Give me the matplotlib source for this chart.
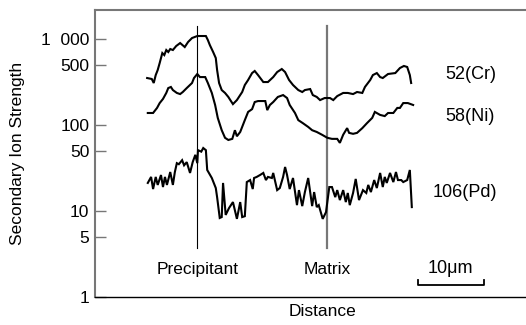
import matplotlib
matplotlib.use("Agg")
import matplotlib.pyplot as plt

plt.rcParams['font.family'] = ['Liberation Sans', 'DejaVu Sans']

# distance in um, secondary ion strength (counts)
cr_x = [7.9, 8.6, 8.9, 9.2, 9.5, 9.8, 10.2, 10.5, 10.8, 11.1, 11.4, 11.8, 12.3, 12.9, 13.6,
        14.1, 14.7, 15.5, 16.8, 17.1, 17.4, 17.9, 18.3, 18.5, 18.8, 19.2, 19.7, 20.2, 20.5,
        20.9, 21.5, 22.3, 22.7, 23.2, 23.8, 24.2, 24.7, 25.5, 26.2, 27.0, 27.6, 28.3, 28.8,
        29.4, 30.0, 30.8, 31.4, 31.8, 32.6, 33.0, 33.6, 34.1, 34.8, 35.6, 36.1, 36.7, 37.6,
        38.3, 39.1, 39.7, 40.5, 40.9, 41.7, 42.1, 42.7, 43.2, 43.6, 44.4, 45.5, 46.2, 46.8,
        47.3, 47.7, 47.9]
cr_y = [352, 343, 308, 381, 436, 526, 687, 651, 745, 706, 765, 745, 829, 898, 807,
        923, 1027, 1084, 1084, 973, 851, 706, 601, 436, 308, 255, 236, 212, 195,
        175, 195, 242, 292, 334, 402, 425, 381, 316, 316, 361, 413, 448, 413,
        334, 292, 255, 242, 255, 262, 223, 212, 195, 206, 206, 195, 217, 236,
        236, 229, 242, 236, 277, 334, 381, 402, 361, 352, 392, 402, 460, 486,
        473, 381, 308]

ni_x = [8.0, 8.8, 9.4, 9.8, 10.3, 10.8, 11.1, 11.5, 11.8, 12.4, 12.9, 13.3, 13.9, 14.7,
        15.0, 15.5, 15.9, 16.7, 17.1, 17.7, 18.2, 18.6, 19.2, 19.7, 20.2, 20.8, 21.2, 21.5,
        22.0, 22.7, 23.2, 23.8, 24.2, 24.7, 25.8, 26.1, 26.5, 27.0, 27.7, 28.5, 29.1, 29.5,
        30.3, 30.8, 31.5, 32.3, 32.9, 33.6, 34.4, 35.2, 35.9, 36.7, 37.1, 37.6, 38.2, 38.5,
        39.1, 39.7, 40.5, 41.2, 42.0, 42.4, 43.2, 43.9, 44.4, 45.2, 45.8, 46.2, 46.7, 47.4,
        48.2]
ni_y = [138, 138, 158, 180, 201, 236, 269, 277, 255, 236, 229, 242, 269, 308,
        352, 392, 361, 361, 308, 236, 171, 121, 87, 71, 67, 69, 87, 74,
        83, 114, 142, 153, 185, 190, 190, 149, 171, 185, 212, 223, 206, 171,
        138, 114, 105, 95, 87, 83, 77, 71, 69, 69, 62, 77, 92, 81,
        79, 81, 92, 105, 121, 142, 131, 127, 138, 138, 158, 158, 180, 180,
        171]

pd_x = [8.0, 8.5, 8.8, 9.2, 9.5, 10.0, 10.3, 10.6, 10.9, 11.4, 11.8, 12.1, 12.4, 12.7,
        13.2, 13.5, 13.9, 14.4, 14.8, 15.2, 15.5, 15.6, 16.1, 16.4, 16.8, 17.0, 17.7, 18.3,
        18.5, 18.9, 19.2, 19.4, 19.8, 20.3, 20.9, 21.5, 22.0, 22.3, 22.7, 23.0, 23.5, 23.9,
        24.1, 24.5, 25.0, 25.5, 25.9, 26.2, 26.8, 27.0, 27.6, 28.0, 28.5, 28.8, 29.1, 29.5,
        30.0, 30.6, 30.9, 31.4, 31.8, 32.3, 32.9, 33.2, 33.6, 33.9, 34.5, 35.0, 35.5, 35.9,
        36.4, 36.7, 37.1, 37.6, 38.0, 38.3, 38.6, 39.1, 39.5, 40.0, 40.6, 41.1, 41.4, 41.8,
        42.3, 42.7, 43.2, 43.6, 43.9, 44.2, 44.7, 45.2, 45.6, 45.9, 46.4, 46.7, 47.3, 47.7,
        48.0]
pd_y = [21.2, 24.9, 18.0, 24.9, 20.1, 26.2, 19.0, 24.9, 20.1, 28.4, 20.1, 28.4, 36, 35,
        39, 34, 37, 27.7, 37, 45, 36, 51, 49, 54, 51, 30, 24.2, 18.5,
        14.5, 8.3, 8.5, 21.2, 9.0, 10.8, 12.7, 8.1, 12.7, 8.5, 8.7, 21.7, 22.9, 18.0,
        24.2, 24.9, 26.2, 27.7, 22.9, 24.9, 24.2, 27.7, 17.5, 18.5, 24.9, 32.5, 26.2, 18.0,
        24.2, 11.7, 17.5, 11.4, 16.6, 24.2, 11.4, 16.6, 11.1, 11.7, 8.1, 9.7, 19.0, 19.0,
        14.5, 17.5, 13.4, 17.5, 12.7, 16.2, 11.7, 16.2, 23.6, 13.4, 17.5, 16.2, 20.1, 16.6,
        22.9, 18.5, 27.7, 19.0, 24.9, 21.2, 27.7, 21.7, 28.4, 22.9, 22.9, 21.7, 22.9, 30,
        11.1]

yticks = [1, 5, 10, 50, 100, 500, 1000]
ytick_labels = ["1", "5", "10", "50", "100", "500", "1  000"]

precipitant_x = 15.5
matrix_x = 35.2
marker_span = (3.7, 1416)
scalebar = (48.9, 58.9)

fig = plt.figure(figsize=(5.26, 3.25), dpi=100)
ax = fig.add_axes([0.1806, 0.0862, 0.8194, 0.883])

ax.set_yscale('log')
ax.set_xlim(0, 65.3)
ax.set_ylim(1, 2175)

# reference lines
ax.plot([precipitant_x, precipitant_x], marker_span, color='black', lw=0.8)
ax.plot([matrix_x, matrix_x], marker_span, color='#777777', lw=1.6)

for xs, ys in [(cr_x, cr_y), (ni_x, ni_y), (pd_x, pd_y)]:
    ax.plot(xs, ys, color='black', lw=1.5, solid_joinstyle='miter')

# labels
ax.text(53.0, 382, "52(Cr)", fontsize=13, va='center', ha='left')
ax.text(53.0, 124, "58(Ni)", fontsize=13, va='center', ha='left')
ax.text(51.2, 16.2, "106(Pd)", fontsize=13, va='center', ha='left')

ax.text(precipitant_x, 2.06, "Precipitant", fontsize=12.5, ha='center', va='center')
ax.text(matrix_x, 2.06, "Matrix", fontsize=12.5, ha='center', va='center')

# scale bar
ax.plot([scalebar[0], scalebar[0], scalebar[1], scalebar[1]], [1.58, 1.38, 1.38, 1.58],
        color='black', lw=1.3)
ax.text(sum(scalebar) / 2, 2.17, "10μm", fontsize=13, ha='center', va='center')

ax.set_yticks(yticks)
ax.set_yticklabels(ytick_labels, fontsize=12.5)
ax.minorticks_off()
ax.tick_params(axis='y', direction='in', length=8, width=1, color='#777777', pad=4)
ax.set_xticks([])

for side in ['left', 'top']:
    ax.spines[side].set_color('#777777')
    ax.spines[side].set_linewidth(1.5)
ax.spines['bottom'].set_color('black')
ax.spines['bottom'].set_linewidth(1)
ax.spines['right'].set_visible(False)

ax.set_xlabel("Distance", fontsize=12.5)
ax.xaxis.set_label_coords(0.527, -0.025)
ax.set_ylabel("Secondary Ion Strength", fontsize=12.5)
ax.yaxis.set_label_coords(-0.162, 0.5)

fig.savefig("out.png", dpi=100)
